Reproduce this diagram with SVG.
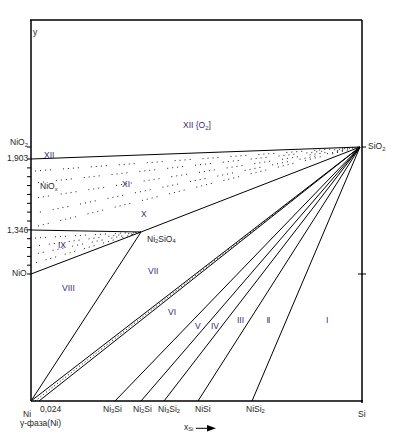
<svg xmlns="http://www.w3.org/2000/svg" width="396" height="443" viewBox="0 0 396 443">
<style>
text{font-family:"Liberation Sans",Arial,sans-serif;font-size:8.5px;fill:#262626}
.rn{fill:#34297a}
.sub{font-size:5.8px}
.ax{stroke:#000;stroke-width:1.5;fill:none}
.ln{stroke:#000;stroke-width:1;fill:none}
.dt{stroke:#000;stroke-width:0.9;fill:none;stroke-dasharray:1 4 1 4 1 4 1 12}
.dt3{stroke:#000;stroke-width:0.9;fill:none;stroke-dasharray:1 4 1 4 1 9}
.dt2{stroke:#000;stroke-width:1;fill:none;stroke-dasharray:1 2.5}
.tk{stroke:#000;stroke-width:1;fill:none}
</style>
<rect width="396" height="443" fill="#fff"/>
<g id="frame">
<path class="ax" d="M30,20H362M31,20V401M31,401H363M362,20V403"/>
<path class="tk" d="M27,147H31M27,159H31M27,167.9H31M27,176.7H31M27,185.6H31M27,194.4H31M27,203.3H31M27,212.1H31M27,221H31M27,229.8H31M27,238.7H31M27,247.5H31M27,256.4H31M27,265.2H31M27,274H31M362,147H366M358,274H366"/>
</g>
<g id="connectors">
<path class="ln" d="M31,159L360,147"/>
<path class="ln" d="M31,230L141,232"/>
<path class="ln" d="M141,232L360,147"/>
<path class="ln" d="M31,274L141,232"/>
<path class="ln" d="M31,401L141,232"/>
<path class="ln" d="M31,401L360,147M39,401L360,147"/>
<path class="dt2" d="M35,401L360,147"/>
<path class="ln" d="M115,401L360,147M141,401L360,147M164,401L360,147M198,401L360,147M252,401L360,147"/>
<path class="dt" d="M35,171L360,147"/>
<path class="dt" d="M35,183L360,147" stroke-dashoffset="7"/>
<path class="dt" d="M36,198L360,147" stroke-dashoffset="3"/>
<path class="dt" d="M36,213L360,147" stroke-dashoffset="11"/>
<path class="dt" d="M38,226L360,147" stroke-dashoffset="5"/>
<path class="dt3" d="M35,238L141,232"/>
<path class="dt3" d="M35,246L141,232" stroke-dashoffset="6"/>
<path class="dt3" d="M35,254L141,232" stroke-dashoffset="2"/>
<path class="dt3" d="M35,263L141,232" stroke-dashoffset="9"/>
</g>
<g id="axis-labels">
<text x="33" y="35">y</text>
<text x="10" y="145">NiO<tspan class="sub" dy="1.5">2</tspan></text>
<text x="7" y="161">1,903</text>
<text x="7" y="233">1,346</text>
<text x="12" y="276">NiO</text>
<text x="23" y="416.5">Ni</text>
<text x="20" y="425.5">γ-фаза(Ni)</text>
<text x="40" y="411.5">0,024</text>
<text x="358" y="416.5">Si</text>
<text x="184" y="430">x<tspan class="sub" dy="1">Si</tspan></text>
<path class="ln" d="M196,428.3H208"/>
<polygon points="207,425 216,428.3 207,431.6" fill="#000"/>
</g>
<g id="node-SiO2"><text x="368" y="149">SiO<tspan class="sub" dy="1.5">2</tspan></text></g>
<g id="node-Ni2SiO4"><text x="147" y="241.5">Ni<tspan class="sub" dy="1.5">2</tspan><tspan dy="-1.5">SiO</tspan><tspan class="sub" dy="1.5">4</tspan></text></g>
<g id="node-NiOx"><text x="40" y="189">NiO<tspan class="sub" dy="1.5">x</tspan></text></g>
<g id="node-Ni3Si"><text x="103" y="411.5">Ni<tspan class="sub" dy="1.5">3</tspan><tspan dy="-1.5">Si</tspan></text></g>
<g id="node-Ni2Si"><text x="133" y="411.5">Ni<tspan class="sub" dy="1.5">2</tspan><tspan dy="-1.5">Si</tspan></text></g>
<g id="node-Ni3Si2"><text x="158" y="411.5">Ni<tspan class="sub" dy="1.5">3</tspan><tspan dy="-1.5">Si</tspan><tspan class="sub" dy="1.5">2</tspan></text></g>
<g id="node-NiSi"><text x="195" y="411.5">NiSi</text></g>
<g id="node-NiSi2"><text x="246" y="411.5">NiSi<tspan class="sub" dy="1.5">2</tspan></text></g>
<g id="regions">
<text class="rn" x="183" y="128">XII {O<tspan class="sub" dy="1.5">2</tspan><tspan dy="-1.5">]</tspan></text>
<text class="rn" x="44" y="158">XII</text>
<text class="rn" x="122" y="187">XI</text>
<text class="rn" x="141" y="217">X</text>
<text class="rn" x="58" y="248">IX</text>
<text class="rn" x="148" y="274">VII</text>
<text class="rn" x="62" y="291">VIII</text>
<text class="rn" x="168" y="315">VI</text>
<text class="rn" x="195" y="329">V</text>
<text class="rn" x="211" y="329">IV</text>
<text class="rn" x="237" y="322.5">III</text>
<text class="rn" x="266.5" y="322.5" letter-spacing="-0.8">II</text>
<text class="rn" x="326" y="322.5">I</text>
</g>
</svg>
